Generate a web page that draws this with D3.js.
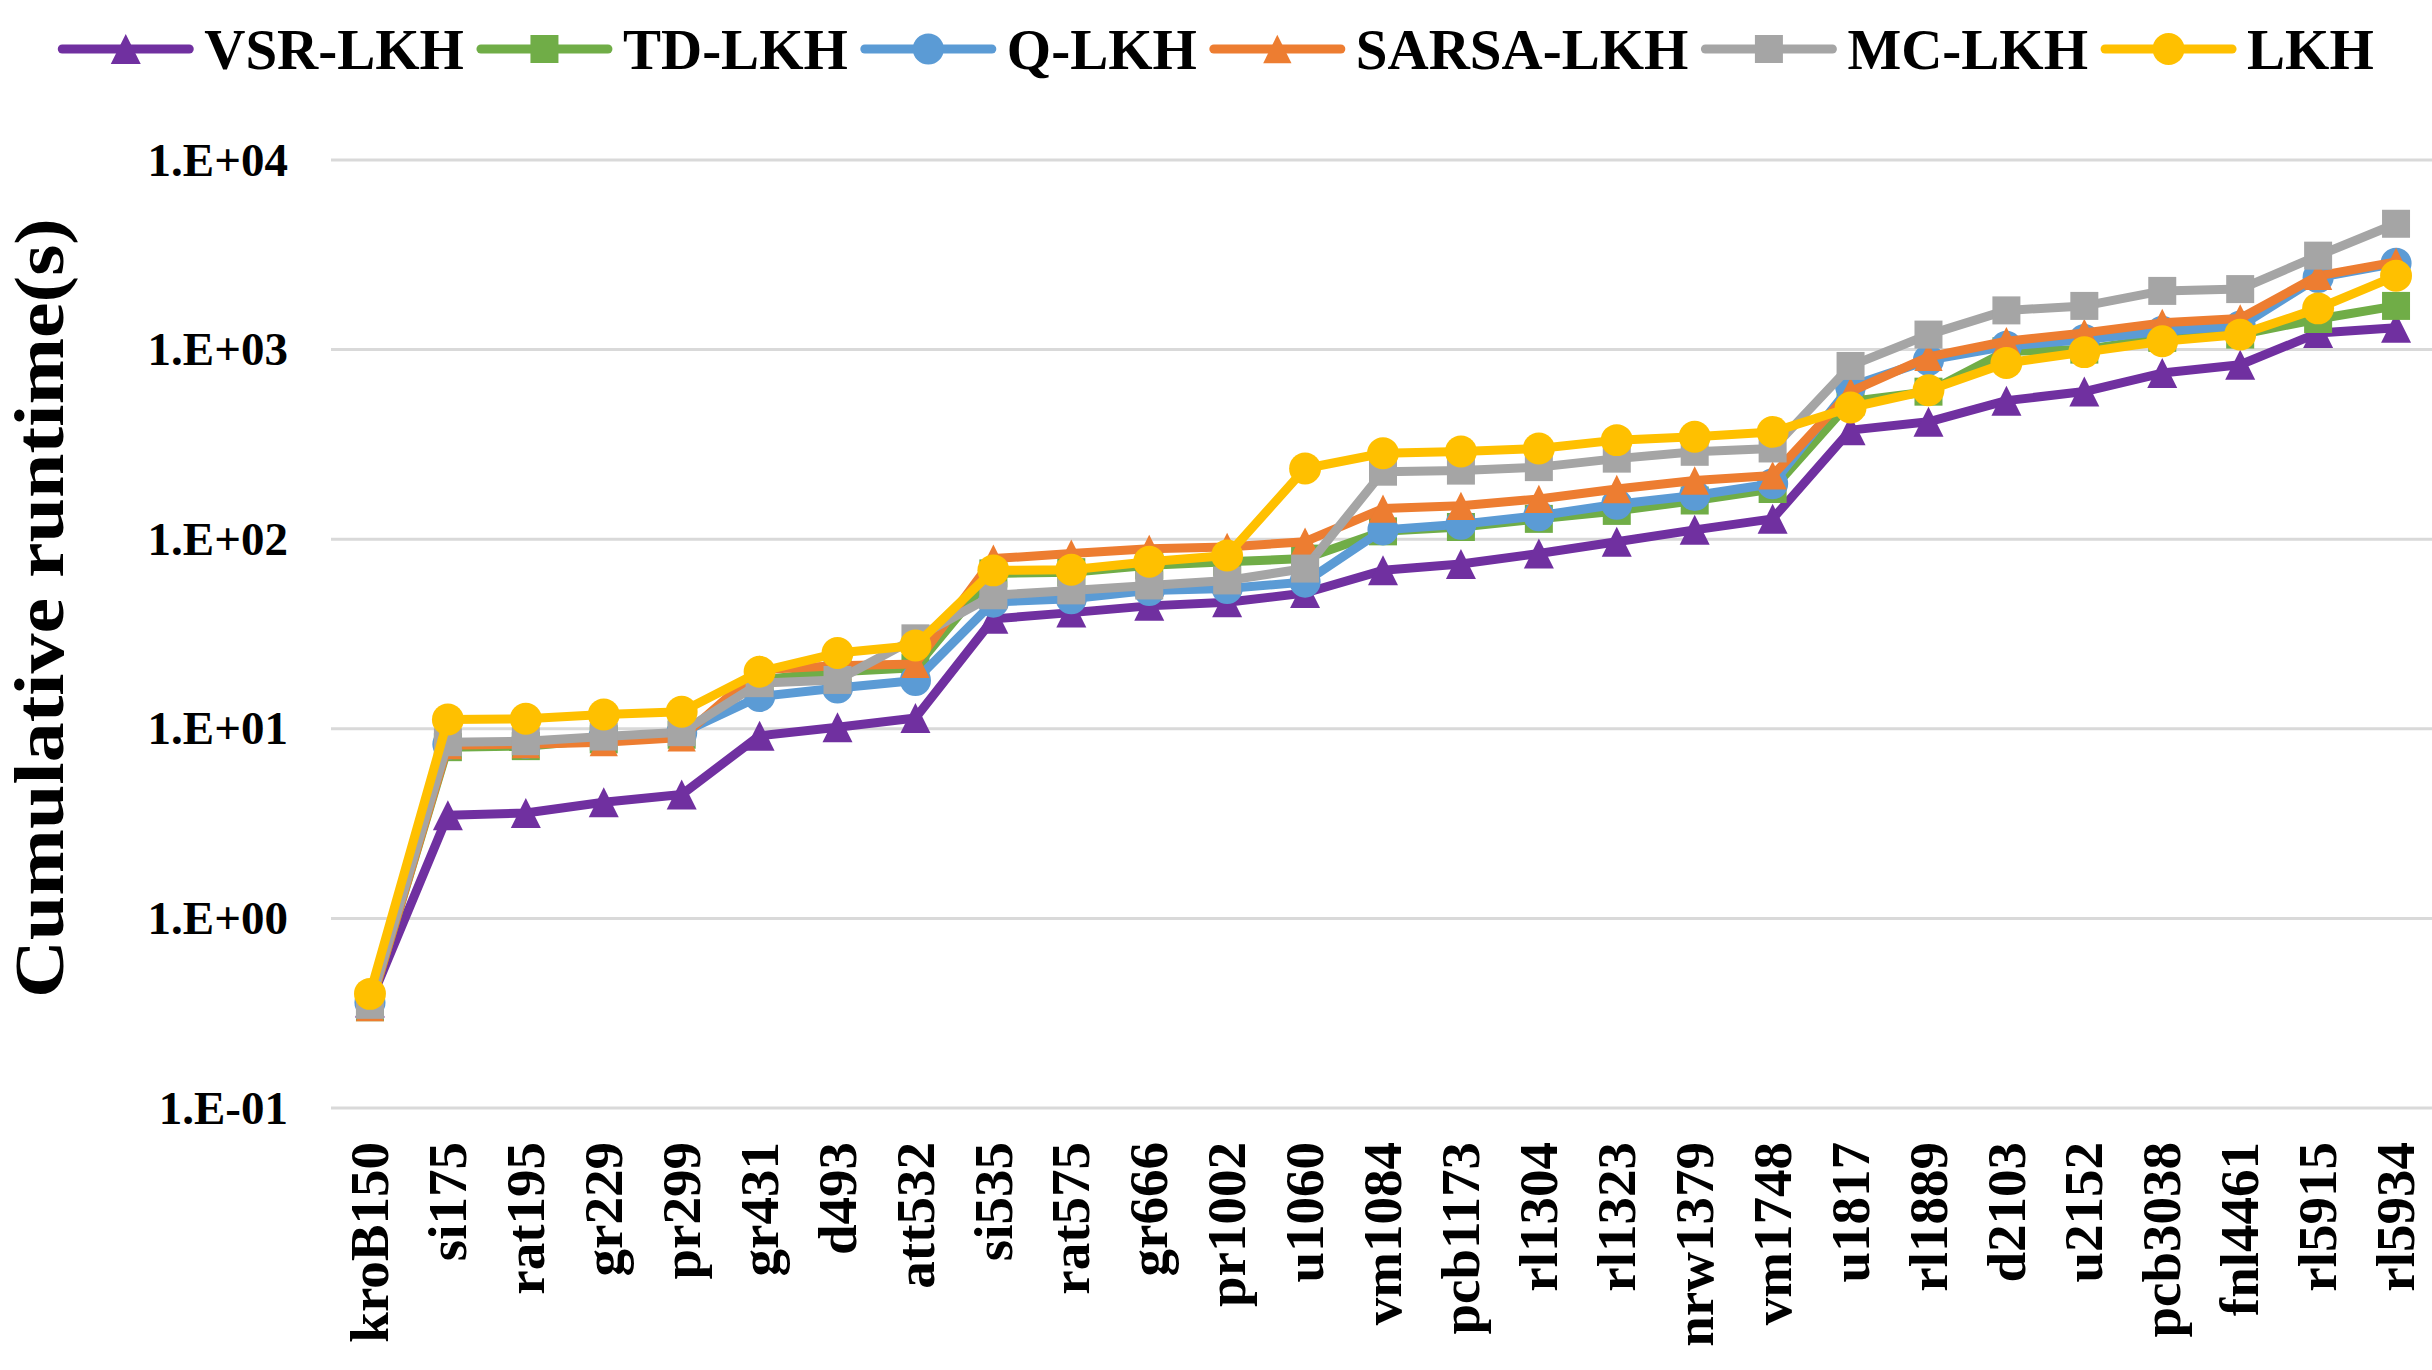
<!DOCTYPE html>
<html>
<head>
<meta charset="utf-8">
<script src="https://cdn.jsdelivr.net/npm/d3@7"></script>
<style>
    html, body { margin: 0; padding: 0; background: #ffffff; }
    svg { display: block; }
    text { font-family: "Times New Roman", "Liberation Serif", serif; font-weight: bold; fill: #000; }
</style>
</head>
<body>
<svg id="chart" width="2432" height="1370"></svg>
<script>

var categories = ["kroB150", "si175", "rat195", "gr229", "pr299", "gr431", "d493", "att532",
    "si535", "rat575", "gr666", "pr1002", "u1060", "vm1084", "pcb1173", "rl1304", "rl1323",
    "nrw1379", "vm1748", "u1817", "rl1889", "d2103", "u2152", "pcb3038", "fnl4461", "rl5915", "rl5934"];

var vsrLKH   = [0.36, 3.5, 3.6, 4.1, 4.5, 9.2, 10.2, 11.4, 38, 41, 44.5, 46.5, 52, 68.5, 74, 84, 97, 112, 128, 376, 416, 538, 601, 752, 832, 1225, 1303];
var tdLKH    = [0.34, 8.0, 8.1, 8.8, 9.3, 18.1, 20, 21, 66, 67, 72.8, 76, 79, 110, 116, 128, 141, 160, 184, 532, 600, 980, 1000, 1153, 1200, 1450, 1700];
var qLKH     = [0.36, 8.3, 8.4, 9.0, 9.5, 14.8, 16.4, 18, 46.6, 48.5, 53.7, 55, 59.4, 112, 120, 133, 153, 170, 196, 640, 880, 1042, 1130, 1250, 1330, 2400, 2850];
var sarsaLKH = [0.34, 8.2, 8.3, 8.5, 9.0, 20.5, 21.5, 22, 79, 84, 89, 91, 97, 145, 150, 163, 184, 204, 217, 600, 915, 1107, 1225, 1384, 1460, 2450, 2900];
var mcLKH    = [0.35, 8.5, 8.6, 9.1, 9.6, 17.4, 18.1, 30, 50.6, 53.7, 57, 60.6, 70, 227, 230, 240, 266, 289, 301, 820, 1200, 1610, 1700, 2040, 2085, 3130, 4610];
var lkh      = [0.40, 11.2, 11.3, 11.9, 12.3, 20, 25.1, 27.5, 68.5, 69, 76, 82, 236, 284, 290, 301, 333, 347, 368, 495, 610, 850, 970, 1107, 1200, 1650, 2450];

var seriesNames = ["VSR-LKH", "TD-LKH", "Q-LKH", "SARSA-LKH", "MC-LKH", "LKH"];

var yTickValues = [0.1, 1, 10, 100, 1000, 10000];
var yTickLabels = ["1.E-01", "1.E+00", "1.E+01", "1.E+02", "1.E+03", "1.E+04"];

var yTitle = "Cumulative runtime(s)";

// triangle as tall as it is wide, like the office marker
var triangleTall = {
    draw: function(context, size) {
        var w = Math.sqrt(size);
        context.moveTo(0, -w / 2);
        context.lineTo(w / 2, w / 2);
        context.lineTo(-w / 2, w / 2);
        context.closePath();
    }
};

var seriesList = [
    {name: seriesNames[0], values: vsrLKH,   color: "#7030A0", symbol: triangleTall,    size: 900},
    {name: seriesNames[1], values: tdLKH,    color: "#70AD47", symbol: d3.symbolSquare, size: 784},
    {name: seriesNames[2], values: qLKH,     color: "#5B9BD5", symbol: d3.symbolCircle, size: 760},
    {name: seriesNames[3], values: sarsaLKH, color: "#ED7D31", symbol: triangleTall,    size: 800},
    {name: seriesNames[4], values: mcLKH,    color: "#A5A5A5", symbol: d3.symbolSquare, size: 784},
    {name: seriesNames[5], values: lkh,      color: "#FFC000", symbol: d3.symbolCircle, size: 800}
];

var svg = d3.select("#chart");

var plot = {left: 331, right: 2435, top: 160, bottom: 1108};

var x = d3.scaleBand()
    .domain(categories)
    .range([plot.left, plot.right]);

var y = d3.scaleLog()
    .domain([0.1, 10000])
    .range([plot.bottom, plot.top]);

function cx(d) { return x(d) + x.bandwidth() / 2; }

//Gridlines
svg.append("g")
    .selectAll("line")
    .data(yTickValues)
    .enter()
    .append("line")
    .attr("x1", plot.left)
    .attr("x2", 2432)
    .attr("y1", function(d) { return y(d); })
    .attr("y2", function(d) { return y(d); })
    .attr("stroke", "#d9d9d9")
    .attr("stroke-width", 3);

//Y axis
var yAxis = svg.append("g")
    .attr("transform", "translate(" + plot.left + ",0)")
    .call(d3.axisLeft(y)
        .tickValues(yTickValues)
        .tickFormat(function(d, i) { return yTickLabels[i]; })
        .tickSize(0)
        .tickPadding(43));
yAxis.select(".domain").remove();
yAxis.selectAll("text")
    .attr("font-size", 47)
    .attr("font-family", null)
    .attr("dy", "0.32em");

//X axis
var xAxis = svg.append("g")
    .attr("transform", "translate(0," + plot.bottom + ")")
    .call(d3.axisBottom(x).tickSize(0));
xAxis.select(".domain").remove();
xAxis.selectAll("text")
    .attr("font-size", 55)
    .attr("font-family", null)
    .attr("transform", "rotate(-90)")
    .attr("text-anchor", "end")
    .attr("x", -34)
    .attr("y", 0)
    .attr("dy", "0.33em");

//Axis title
svg.append("text")
    .attr("transform", "translate(40,608) rotate(-90)")
    .attr("text-anchor", "middle")
    .attr("dy", "0.33em")
    .attr("font-size", 70)
    .attr("textLength", 780)
    .attr("lengthAdjust", "spacingAndGlyphs")
    .text(yTitle);

//Series
var line = d3.line()
    .x(function(d, i) { return cx(categories[i]); })
    .y(function(d) { return y(d); });

seriesList.forEach(function(s) {
    var g = svg.append("g");
    g.append("path")
        .datum(s.values)
        .attr("d", line)
        .attr("fill", "none")
        .attr("stroke", s.color)
        .attr("stroke-width", 9)
        .attr("stroke-linejoin", "round")
        .attr("stroke-linecap", "round");

    g.selectAll("path.marker")
        .data(s.values)
        .enter()
        .append("path")
        .attr("class", "marker")
        .attr("d", d3.symbol().type(s.symbol).size(s.size))
        .attr("fill", s.color)
        .attr("transform", function(d, i) {
            return "translate(" + cx(categories[i]) + "," + y(d) + ")";
        });
});

//Legend
var legend = svg.append("g");
var legendY = 49;
var lineLen = 127, textGap = 15, itemGap = 17;
var cursor = 0;

seriesList.forEach(function(s) {
    var item = legend.append("g").attr("transform", "translate(" + cursor + ",0)");
    item.append("line")
        .attr("x1", 0).attr("x2", lineLen)
        .attr("y1", legendY).attr("y2", legendY)
        .attr("stroke", s.color)
        .attr("stroke-width", 9)
        .attr("stroke-linecap", "round");
    item.append("path")
        .attr("d", d3.symbol().type(s.symbol).size(s.size))
        .attr("fill", s.color)
        .attr("transform", "translate(" + lineLen / 2 + "," + legendY + ")");
    var t = item.append("text")
        .attr("x", lineLen + textGap)
        .attr("y", legendY)
        .attr("dy", "0.35em")
        .attr("font-size", 57)
        .text(s.name);
    cursor += lineLen + textGap + t.node().getComputedTextLength() + itemGap;
});

var legendWidth = cursor - itemGap;
legend.attr("transform", "translate(" + (1218 - legendWidth / 2) + ",0)");

</script>
</body>
</html>
